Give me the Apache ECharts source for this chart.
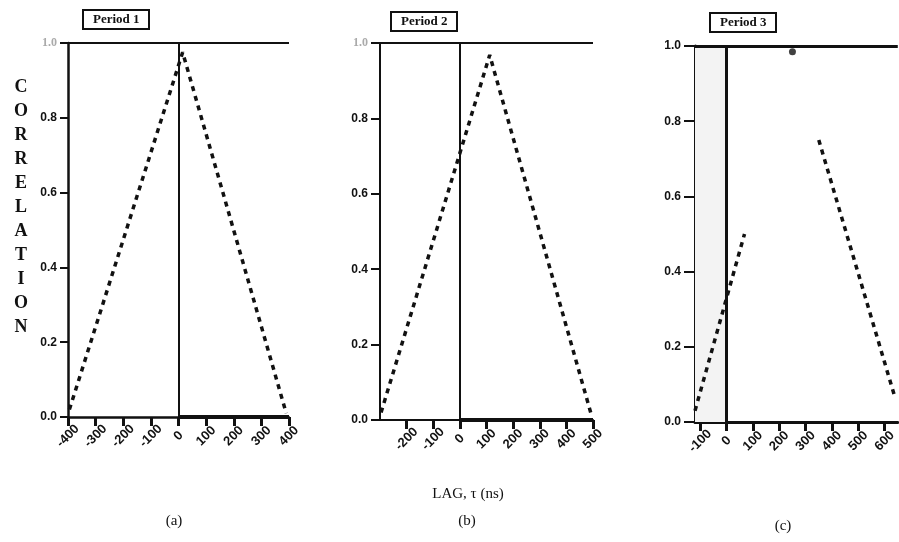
<!DOCTYPE html>
<html>
<head>
<meta charset="utf-8">
<script src="https://cdn.jsdelivr.net/npm/echarts@6/dist/echarts.min.js"></script>
<style>html,body{margin:0;padding:0;background:#fff;}#c{width:899px;height:542px;}</style>
</head>
<body>
<div id="c"></div>
<script>
// ---- data ----
const periodTitles = ['Period 1', 'Period 2', 'Period 3'];
const panelLetters = ['(a)', '(b)', '(c)'];
const xAxisTitle = 'LAG, \u03c4 (ns)';
const yAxisTitle = 'CORRELATION';

const lagA = [-395, 15, 390];
const corrA = [0.02, 0.975, 0.01];

const lagB = [-296, 112, 494];
const corrB = [0.02, 0.968, 0.013];

const lagC1 = [-120, 68];
const corrC1 = [0.03, 0.50];
const lagC2 = [350, 639];
const corrC2 = [0.75, 0.066];
const peakLagC = [250];
const peakCorrC = [0.985];

const xTicksA = [-400, -300, -200, -100, 0, 100, 200, 300, 400];
const xTicksB = [-200, -100, 0, 100, 200, 300, 400, 500];
const xTicksC = [-100, 0, 100, 200, 300, 400, 500, 600];
const yTicks = [0, 0.2, 0.4, 0.6, 0.8, 1.0];

// ---- chart ----
const zip = (xs, ys) => xs.map((x, i) => [x, ys[i]]);
const chart = echarts.init(document.getElementById('c'), null, {renderer: 'canvas'});

const grids = [
  {left: 68, top: 43, width: 221, height: 374},
  {left: 380, top: 43, width: 213, height: 377},
  {left: 695, top: 46, width: 205, height: 376}
];
const xRanges = [[-400, 400], [-300, 500], [-120, 650]];
const xTickSets = [xTicksA, xTicksB, xTicksC];
const axisW = [2.5, 2, 3];
const yTickLen = [8, 9, 11];

const xAxes = grids.map((g, i) => ({
  type: 'value', gridIndex: i, min: xRanges[i][0], max: xRanges[i][1],
  axisLine: {show: true, onZero: false, lineStyle: {color: '#111', width: axisW[i]}},
  axisTick: {show: true, length: 9, inside: false, customValues: xTickSets[i], lineStyle: {color: '#111', width: 3}},
  splitLine: {show: false},
  axisLabel: {
    show: true, rotate: 45, customValues: xTickSets[i], margin: 19,
    align: 'center', verticalAlign: 'middle',
    fontFamily: 'Liberation Sans', fontWeight: 'bold', fontSize: 13, color: '#111'
  }
}));

const yAxes = grids.map((g, i) => ({
  type: 'value', gridIndex: i, min: 0, max: 1, interval: 0.2,
  axisLine: {show: true, onZero: false, lineStyle: {color: '#111', width: axisW[i]}},
  axisTick: {show: true, length: yTickLen[i], lineStyle: {color: '#111', width: 2}},
  splitLine: {show: false},
  axisLabel: {
    margin: yTickLen[i] + 3, fontFamily: 'Liberation Sans', fontWeight: 'bold', fontSize: 12,
    color: '#111',
    formatter: v => v.toFixed(1),
    rich: {}
  }
}));
// lighter 1.0 labels on (a) and (b)
[0, 1].forEach(i => {
  yAxes[i].axisLabel.formatter = v => (v >= 0.999 ? '{f|' + v.toFixed(1) + '}' : v.toFixed(1));
  yAxes[i].axisLabel.rich = {f: {color: '#aaa', fontFamily: 'Liberation Serif', fontSize: 12}};
});

const dashed = {color: '#111', width: 3.5, type: [5, 5], cap: 'butt'};
const refLines = (w) => ({
  silent: true, symbol: 'none', label: {show: false},
  lineStyle: {color: '#111', width: w, type: 'solid'},
  data: [{xAxis: 0}, {yAxis: 1}]
});

const series = [
  {type: 'line', xAxisIndex: 0, yAxisIndex: 0, data: zip(lagA, corrA), showSymbol: false, lineStyle: dashed,
   markLine: refLines(2), z: 3},
  {type: 'line', xAxisIndex: 0, yAxisIndex: 0, data: [], markLine: {
    silent: true, symbol: 'none', label: {show: false}, lineStyle: {color: '#111', width: 4, type: 'solid'},
    data: [[{coord: [0, 0]}, {coord: [400, 0]}]]}},
  {type: 'line', xAxisIndex: 1, yAxisIndex: 1, data: zip(lagB, corrB), showSymbol: false, lineStyle: dashed,
   markLine: refLines(2), z: 3},
  {type: 'line', xAxisIndex: 1, yAxisIndex: 1, data: [], markLine: {
    silent: true, symbol: 'none', label: {show: false}, lineStyle: {color: '#111', width: 4, type: 'solid'},
    data: [[{coord: [0, 0]}, {coord: [500, 0]}]]}},
  {type: 'line', xAxisIndex: 2, yAxisIndex: 2, data: zip(lagC1, corrC1), showSymbol: false, lineStyle: dashed,
   markLine: refLines(3),
   markArea: {silent: true, itemStyle: {color: '#f3f3f3'}, data: [[{xAxis: -120}, {xAxis: 0}]]}, z: 3},
  {type: 'line', xAxisIndex: 2, yAxisIndex: 2, data: zip(lagC2, corrC2), showSymbol: false, lineStyle: dashed, z: 3},
  {type: 'scatter', xAxisIndex: 2, yAxisIndex: 2, data: zip(peakLagC, peakCorrC), symbol: 'circle', symbolSize: 7,
   itemStyle: {color: '#111'}, z: 4}
];

const titlePos = [{left: 83, top: 10}, {left: 391, top: 12}, {left: 710, top: 13}];
const titles = periodTitles.map((t, i) => ({
  text: t, left: titlePos[i].left, top: titlePos[i].top,
  padding: [3, 10, 3, 10], borderColor: '#111', borderWidth: 2, backgroundColor: '#fff',
  textStyle: {fontFamily: 'Liberation Serif', fontWeight: 'bold', fontSize: 13, color: '#111'}
}));

const letterPos = [[174, 521], [467, 521], [783, 526]];
const graphics = [
  {type: 'text', x: 21, y: 207, style: {
    text: yAxisTitle.split('').join('\n'), font: 'bold 18px "Liberation Serif"', lineHeight: 24,
    align: 'center', verticalAlign: 'middle', fill: '#111'}},
  {type: 'text', x: 468, y: 494, style: {
    text: xAxisTitle, font: '15px "Liberation Serif"', align: 'center', verticalAlign: 'middle', fill: '#111'}}
].concat(panelLetters.map((t, i) => ({
  type: 'text', x: letterPos[i][0], y: letterPos[i][1], style: {
    text: t, font: '15px "Liberation Serif"', align: 'center', verticalAlign: 'middle', fill: '#111'}
})));

chart.setOption({
  backgroundColor: '#fff',
  animation: false,
  title: titles,
  grid: grids,
  xAxis: xAxes,
  yAxis: yAxes,
  series: series,
  graphic: graphics
});
</script>
</body>
</html>
